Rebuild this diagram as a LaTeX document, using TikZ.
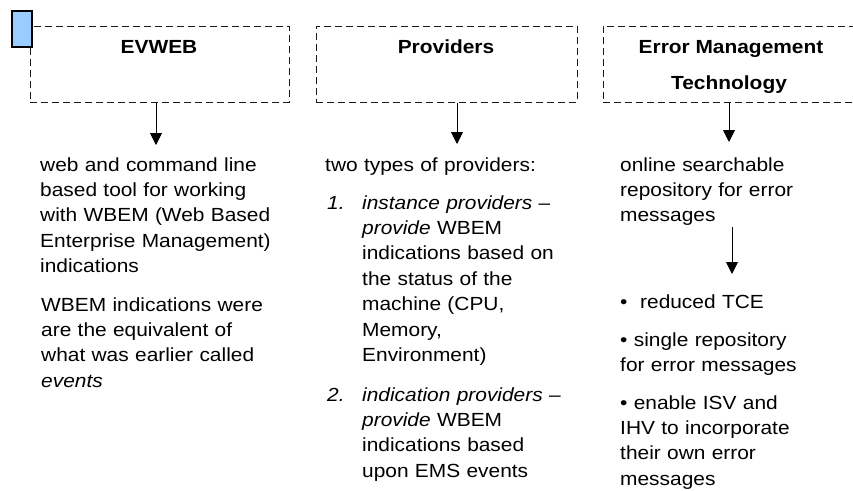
\documentclass[tikz,border=0pt]{standalone}
\usepackage{fontspec}
\setmainfont{Liberation Sans}[FakeStretch=1.1]
\usetikzlibrary{arrows.meta}
\definecolor{markblue}{RGB}{153,204,255}
\begin{document}
\begin{tikzpicture}[x=1pt,y=-1pt,
  dbox/.style={draw=black!90, dash pattern=on 7pt off 4pt, line width=1pt, inner sep=0pt, minimum height=76pt},
  ttl/.style={font=\fontsize{19}{25.4}\selectfont\bfseries, inner sep=0pt, anchor=base},
  body/.style={font=\fontsize{19}{25.4}\selectfont, inner sep=0pt, anchor=base west, align=left, text width=270pt},
  num/.style={font=\fontsize{19}{25.4}\selectfont\itshape, inner sep=0pt, anchor=base west},
  arr/.style={line width=0.9pt, -{Triangle[length=12pt,width=12pt]}}]
\useasboundingbox (0,0) rectangle (853,490);
\begin{scope}
\clip (0,0) rectangle (853,490);
% boxes
\node[dbox, minimum width=259pt] (evbox) at (159.5,64) {};
\node[dbox, minimum width=261pt] (provbox) at (446.5,64) {};
\node[dbox, minimum width=270pt] (errbox) at (738,64) {};
\end{scope}
% marker
\node[draw, fill=markblue, line width=1.2pt, inner sep=0pt, minimum width=20pt, minimum height=36pt] (marker) at (22,29) {};
% titles
\node[ttl] (evt) at (159,53) {EVWEB};
\node[ttl] (prt) at (446,53) {Providers};
\node[ttl] (ert1) at (731,53) {Error Management};
\node[ttl] (ert2) at (729,89) {Technology};
% body texts
\node[body] (ev1) at (40,171) {web and command line\\based tool for working\\with WBEM (Web Based\\Enterprise Management)\\indications};
\node[body] (ev2) at (41,311) {WBEM indications were\\are the equivalent of\\what was earlier called\\\textit{events}};
\node[body] (pr0) at (325,171) {two types of providers:};
\node[num] (n1) at (327,209) {1.};
\node[body] (it1) at (362,209) {\textit{instance providers} --\\\textit{provide} WBEM\\indications based on\\the status of the\\machine (CPU,\\Memory,\\Environment)};
\node[num] (n2) at (327,401) {2.};
\node[body] (it2) at (362,401) {\textit{indication providers} --\\\textit{provide} WBEM\\indications based\\upon EMS events};
\node[body] (er1) at (620,171) {online searchable\\repository for error\\messages};
\node[body] (b1) at (620,308) {•\ \ reduced TCE};
\node[body] (b2) at (620,346) {• single repository\\for error messages};
\node[body] (b3) at (620,409) {• enable ISV and\\IHV to incorporate\\their own error\\messages};
% arrows
\coordinate (a1) at (156,145);
\coordinate (a2) at (457,144);
\coordinate (a3) at (729,142);
\coordinate (a4s) at (732,227);
\coordinate (a4e) at (732,274);
\draw[arr] (evbox.south -| a1) -- (a1);
\draw[arr] (provbox.south -| a2) -- (a2);
\draw[arr] (errbox.south -| a3) -- (a3);
\draw[arr] (a4s) -- (a4e);
\end{tikzpicture}
\end{document}
